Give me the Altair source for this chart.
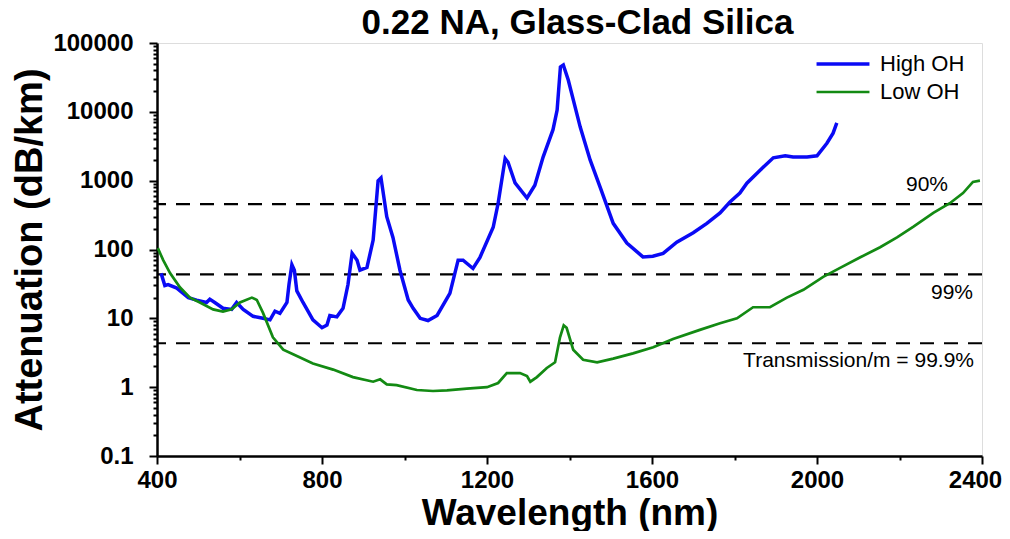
import altair as alt
import pandas as pd

# ---------------- data ----------------
high_wl = [410, 419, 427, 448, 476, 496, 520, 528, 540, 560,
           581, 593, 609, 633, 657, 674, 686, 698, 715, 720,
           727, 733, 739, 754, 778, 800, 812, 819, 836, 851,
           863, 873, 885, 892, 909, 924, 936, 943, 957, 972,
           989, 1009, 1021, 1038, 1057, 1079, 1110, 1130, 1142, 1166,
           1183, 1215, 1227, 1244, 1251, 1268, 1297, 1316, 1336, 1360,
           1370, 1378, 1385, 1397, 1426, 1450, 1474, 1506, 1539, 1578,
           1602, 1627, 1660, 1700, 1733, 1765, 1789, 1813, 1830, 1862,
           1894, 1923, 1942, 1976, 2000, 2024, 2039, 2048]
high_att = [45, 30, 31, 27.5, 20, 18.4, 17, 19, 17, 14,
            13.5, 17, 13.5, 10.7, 10, 9.5, 12.7, 11.8, 17, 31,
            60, 50, 25, 17, 9.5, 7.3, 8, 11, 10.5, 14,
            31, 88, 70, 50, 55, 137, 1000, 1100, 300, 150,
            50, 18.5, 14, 10, 9.3, 11, 23, 70, 70, 53,
            77, 210, 470, 2100, 1850, 930, 560, 860, 2200, 5500,
            10600, 45000, 48000, 29000, 6000, 2000, 810, 240, 124, 78,
            80, 88, 128, 175, 240, 340, 490, 660, 920, 1420,
            2150, 2300, 2200, 2200, 2300, 3500, 4900, 6900]

low_wl = [402, 415, 432, 456, 480, 504, 536, 560, 581, 601,
          630, 642, 657, 681, 706, 730, 778, 827, 875, 924,
          941, 957, 981, 1030, 1069, 1103, 1151, 1200, 1227, 1248,
          1280, 1297, 1305, 1321, 1345, 1365, 1377, 1386, 1393, 1409,
          1433, 1467, 1506, 1554, 1603, 1651, 1716, 1765, 1806, 1845,
          1886, 1927, 1967, 2015, 2056, 2105, 2153, 2194, 2233, 2282,
          2322, 2354, 2378, 2395]
low_att = [105, 70, 45, 28, 20, 17, 13.5, 12.5, 13.5, 17,
           20, 18.5, 12, 5.3, 3.5, 3.0, 2.2, 1.8, 1.4, 1.2,
           1.3, 1.1, 1.07, 0.91, 0.88, 0.9, 0.95, 1.0, 1.15, 1.6,
           1.6, 1.45, 1.2, 1.4, 1.9, 2.3, 5.3, 7.9, 7.3, 3.5,
           2.5, 2.3, 2.6, 3.1, 3.8, 5.0, 6.8, 8.5, 10, 14.5,
           14.5, 20, 26, 40, 54, 77, 108, 150, 213, 340,
           470, 660, 960, 1000]

series_names = ["High OH", "Low OH"]
series_colors = ["#0a0af5", "#138a13"]

# transmission per metre thresholds (dB/km)
thresh_values = [457.6, 43.6, 4.345]
thresh_labels = ["90%", "99%", "Transmission/m = 99.9%"]

x_ticks = [400, 600, 800, 1000, 1200, 1400, 1600, 1800, 2000, 2200, 2400]
y_ticks = [m * 10 ** e for e in range(-1, 5) for m in range(1, 10)] + [100000]

# ---------------- frames ----------------
df = pd.concat([
    pd.DataFrame({"wl": high_wl, "att": high_att, "series": series_names[0]}),
    pd.DataFrame({"wl": low_wl, "att": low_att, "series": series_names[1]}),
])
df_th = pd.DataFrame({"att": thresh_values, "label": thresh_labels})

FONT = "Liberation Sans"
IS_DECADE = "abs(log(datum.value)/LN10 - round(log(datum.value)/LN10)) < 1e-6"

xscale = alt.Scale(domain=[400, 2400], nice=False, zero=False)
yscale = alt.Scale(type="log", domain=[0.1, 100000], nice=False)

x_axis = alt.Axis(
    title="Wavelength (nm)", values=x_ticks,
    labelExpr="datum.value % 400 === 0 ? datum.label : ''",
    format="d", grid=False,
    tickSize={"condition": {"test": "datum.value % 400 === 0", "value": 8}, "value": 4},
    labelOffset={"condition": {"test": "datum.value === 2400", "value": -7}, "value": 0},
    tickWidth=2, tickColor="black", domainColor="black", domainWidth=2.5,
    labelFont=FONT, labelFontWeight="bold", labelFontSize=24, labelColor="black",
    labelPadding=4, labelFlush=False, labelOverlap=False,
    titleFont=FONT, titleFontWeight="bold", titleFontSize=37, titleColor="black",
    titlePadding=3,
)
y_axis = alt.Axis(
    title="Attenuation (dB/km)", values=y_ticks,
    labelExpr=IS_DECADE + " ? datum.label : ''",
    format="~g", grid=False,
    tickSize={"condition": {"test": IS_DECADE, "value": 8}, "value": 4},
    tickWidth=2, tickColor="black", domainColor="black", domainWidth=2.5,
    labelFont=FONT, labelFontWeight="bold", labelFontSize=24, labelColor="black",
    labelPadding=16, labelFlush=False, labelOverlap=False,
    titleFont=FONT, titleFontWeight="bold", titleFontSize=38, titleColor="black",
    titlePadding=3,
)

lines = alt.Chart(df).mark_line(clip=True).encode(
    x=alt.X("wl:Q", scale=xscale, axis=x_axis),
    y=alt.Y("att:Q", scale=yscale, axis=y_axis),
    color=alt.Color(
        "series:N",
        scale=alt.Scale(domain=series_names, range=series_colors),
        legend=alt.Legend(
            title=None, orient="none", legendX=675, legendY=10,
            symbolType="M-4,0H4", symbolSize=175, symbolStrokeWidth=3,
            labelFont=FONT, labelFontSize=22, labelColor="black",
            labelOffset=26, rowPadding=6, padding=0,
        ),
    ),
    strokeWidth=alt.StrokeWidth("series:N", scale=alt.Scale(domain=series_names, range=[3.5, 2.7]), legend=None),
)

rules = alt.Chart(df_th).mark_rule(color="black", strokeWidth=2.2, strokeDash=[14, 10]).encode(
    y=alt.Y("att:Q", scale=yscale),
)

def label_layer(i, xpx, dy):
    return alt.Chart(df_th.iloc[[i]]).mark_text(
        align="right", baseline="middle", dy=dy, font=FONT, fontSize=21, color="black"
    ).encode(
        y=alt.Y("att:Q", scale=yscale),
        x=alt.value(xpx),
        text="label:N",
    )

labels = label_layer(0, 791, -19) + label_layer(1, 816, 19) + label_layer(2, 817, 18)

chart = alt.layer(rules, lines, labels).properties(
    width=825, height=413,
    title=alt.Title("0.22 NA, Glass-Clad Silica", font=FONT, fontWeight="bold",
                    fontSize=35, color="black", anchor="middle", offset=-10, dx=8),
    autosize=alt.AutoSizeParams(type="none"),
    padding={"left": 149, "top": 35, "right": 20, "bottom": 75},
).configure_view(stroke="black", strokeWidth=2.5).configure(background="white")

chart.save("out.html", embed_options={"renderer": "svg", "actions": False})
